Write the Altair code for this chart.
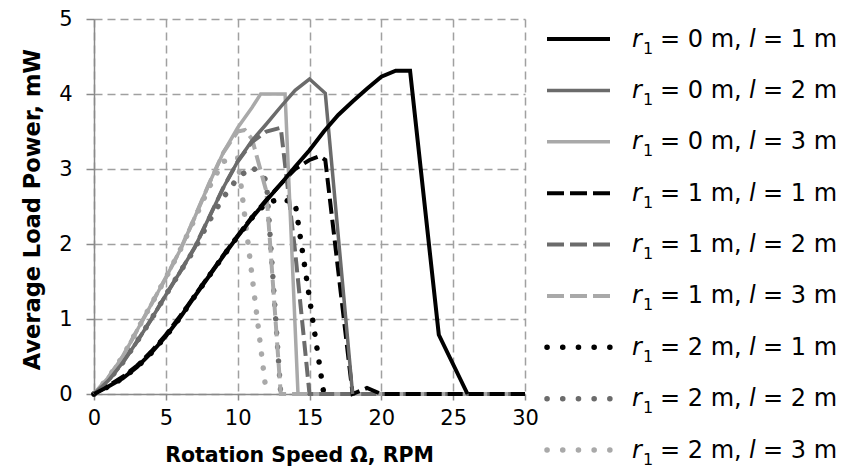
import altair as alt
import pandas as pd

# ---- data ----
series = ["r1=0,l=1", "r1=0,l=2", "r1=0,l=3",
          "r1=1,l=1", "r1=1,l=2", "r1=1,l=3",
          "r1=2,l=1", "r1=2,l=2", "r1=2,l=3"]
r1_vals = [0, 0, 0, 1, 1, 1, 2, 2, 2]
l_vals = [1, 2, 3, 1, 2, 3, 1, 2, 3]

x_r0_l1 = [0, 1, 2, 3, 4, 5, 6, 7, 8, 9, 10, 11, 12, 13, 14, 15, 16, 17, 18, 19, 20, 21, 22, 24, 26]
y_r0_l1 = [0, 0.1, 0.21, 0.36, 0.55, 0.77, 1.02, 1.3, 1.57, 1.84, 2.1, 2.35, 2.58, 2.8, 3.03, 3.25, 3.5, 3.72, 3.9, 4.07, 4.23, 4.31, 4.31, 0.79, 0]

x_r0_l2 = [0, 1, 2, 3, 4, 5, 6, 7, 8, 9, 10, 11, 12, 13, 14, 15, 16.1, 18]
y_r0_l2 = [0, 0.18, 0.42, 0.7, 1.0, 1.32, 1.63, 1.95, 2.35, 2.75, 3.1, 3.38, 3.6, 3.83, 4.05, 4.2, 4.01, 0]

x_r0_l3 = [0, 1, 2, 3, 4, 5, 6, 7, 8, 9, 10, 11, 11.6, 13.3, 14.2]
y_r0_l3 = [0, 0.22, 0.5, 0.85, 1.2, 1.55, 1.92, 2.35, 2.8, 3.22, 3.55, 3.82, 4.0, 4.0, 0]

x_r1_l1 = [0, 1, 2, 3, 4, 5, 6, 7, 8, 9, 10, 11, 12, 13, 14, 15, 15.7, 16.1, 18, 19, 20, 30]
y_r1_l1 = [0, 0.11, 0.23, 0.38, 0.57, 0.79, 1.04, 1.31, 1.58, 1.85, 2.11, 2.36, 2.59, 2.8, 3.0, 3.12, 3.17, 3.12, 0, 0.08, 0, 0]

x_r1_l2 = [0, 1, 2, 3, 4, 5, 6, 7, 8, 9, 10, 11, 12, 13, 14, 15, 30]
y_r1_l2 = [0, 0.18, 0.42, 0.7, 1.0, 1.32, 1.63, 1.95, 2.35, 2.75, 3.1, 3.36, 3.5, 3.55, 1.9, 0, 0]

x_r1_l3 = [0, 1, 2, 3, 4, 5, 6, 7, 8, 9, 10, 10.5, 11, 12, 13, 30]
y_r1_l3 = [0, 0.22, 0.5, 0.85, 1.2, 1.55, 1.92, 2.35, 2.8, 3.22, 3.5, 3.52, 3.4, 2.7, 0, 0]

x_r2_l1 = [0, 1, 2, 3, 4, 5, 6, 7, 8, 9, 10, 11, 12, 13, 14, 16]
y_r2_l1 = [0, 0.1, 0.21, 0.36, 0.55, 0.77, 1.02, 1.3, 1.57, 1.84, 2.1, 2.35, 2.55, 2.6, 2.55, 0]

x_r2_l2 = [0, 1, 2, 3, 4, 5, 6, 7, 8, 9, 10, 11, 12, 13]
y_r2_l2 = [0, 0.18, 0.42, 0.7, 1.0, 1.32, 1.63, 1.93, 2.3, 2.62, 2.88, 3.03, 2.85, 0]

x_r2_l3 = [0, 1, 2, 3, 4, 5, 6, 7, 8, 9, 10, 12]
y_r2_l3 = [0, 0.22, 0.5, 0.85, 1.2, 1.55, 1.92, 2.33, 2.75, 3.1, 3.15, 0]

x_ticks = [0, 5, 10, 15, 20, 25, 30]
y_ticks = [0, 1, 2, 3, 4, 5]

xs = [x_r0_l1, x_r0_l2, x_r0_l3, x_r1_l1, x_r1_l2, x_r1_l3, x_r2_l1, x_r2_l2, x_r2_l3]
ys = [y_r0_l1, y_r0_l2, y_r0_l3, y_r1_l1, y_r1_l2, y_r1_l3, y_r2_l1, y_r2_l2, y_r2_l3]

rows = []
for s, xv, yv in zip(series, xs, ys):
    for a, b in zip(xv, yv):
        rows.append({"series": s, "x": a, "y": b})
df = pd.DataFrame(rows)

leg_df = pd.DataFrame({
    "series": series,
    "r_sym": ["r"] * 9,
    "sub": ["1"] * 9,
    "r_txt": [f"= {v} m," for v in r1_vals],
    "l_sym": ["l"] * 9,
    "l_txt": [f"= {v} m" for v in l_vals],
})

# ---- styles ----
grey = {1: "#000000", 2: "#6b6b6b", 3: "#a9a9a9"}
FONT = "DejaVu Sans"


def style(r1, l, legend=False):
    kw = {"color": grey[l]}
    if r1 == 0:
        kw.update(strokeWidth=4 if l == 1 else 3.5, strokeCap="butt")
    elif r1 == 1:
        kw.update(strokeWidth=4, strokeCap="butt", strokeDash=[17, 6] if legend else [15, 6])
    else:
        kw.update(strokeWidth=5.5, strokeCap="round", strokeDash=[0.1, 15.6] if legend else [0.1, 14])
    return kw


x_enc = alt.X("x:Q", scale=alt.Scale(domain=[0, 30], nice=False),
              axis=alt.Axis(values=x_ticks, title="Rotation Speed Ω, RPM",
                            tickSize=6, labelPadding=7, labelFlush=False,
                            titleFontSize=20.5, titleX=205, titleY=61,
                            titleAlign="center", titleBaseline="middle"))
y_enc = alt.Y("y:Q", scale=alt.Scale(domain=[0, 5], nice=False),
              axis=alt.Axis(values=y_ticks, title="Average Load Power, mW",
                            tickSize=8, labelPadding=14, labelFlush=False,
                            titleFontSize=22.5, titleX=-62, titleY=190, titleAngle=-90,
                            titleAlign="center", titleBaseline="middle"))

plot_layers = []
for i in reversed(range(len(series))):
    s = series[i]
    plot_layers.append(
        alt.Chart(df).transform_filter(alt.datum.series == s)
        .mark_line(**style(r1_vals[i], l_vals[i]))
        .encode(x=x_enc, y=y_enc)
    )

legend_y = alt.Y("series:N", scale=alt.Scale(type="point", domain=series, range=[20, 431], padding=0),
                 axis=None)

legend_layers = []
for i, s in enumerate(series):
    legend_layers.append(
        alt.Chart(leg_df).transform_filter(alt.datum.series == s)
        .mark_rule(**style(r1_vals[i], l_vals[i], legend=True))
        .encode(y=legend_y, x=alt.value(453), x2=alt.value(516))
    )

txt = dict(align="left", baseline="middle", font=FONT, color="black")
legend_layers += [
    alt.Chart(leg_df).mark_text(fontSize=24, fontStyle="italic", dy=0.5, **txt)
    .encode(y=legend_y, x=alt.value(538), text="r_sym:N"),
    alt.Chart(leg_df).mark_text(fontSize=16, dy=9.5, **txt)
    .encode(y=legend_y, x=alt.value(549), text="sub:N"),
    alt.Chart(leg_df).mark_text(fontSize=24, dy=0.5, **txt)
    .encode(y=legend_y, x=alt.value(566), text="r_txt:N"),
    alt.Chart(leg_df).mark_text(fontSize=24, fontStyle="italic", dy=0.5, **txt)
    .encode(y=legend_y, x=alt.value(655), text="l_sym:N"),
    alt.Chart(leg_df).mark_text(fontSize=24, dy=0.5, **txt)
    .encode(y=legend_y, x=alt.value(669), text="l_txt:N"),
]

chart = (
    alt.layer(alt.layer(*plot_layers), alt.layer(*legend_layers))
    .resolve_scale(y="independent")
    .properties(width=431, height=375,
                padding={"left": 86, "top": 11, "right": 311, "bottom": 75},
                autosize=alt.AutoSizeParams(type="none"),
                background="white")
    .configure_view(stroke=None)
    .configure_axis(labelFont=FONT, labelFontSize=21, labelColor="black",
                    titleFont=FONT, titleFontSize=21, titleFontWeight="bold", titleColor="black",
                    domainColor="#8a8a8a", domainWidth=1.5,
                    tickColor="#8a8a8a", tickWidth=1.5,
                    grid=True, gridColor="#a0a0a0", gridDash=[8, 5], gridWidth=1.5)
)

chart.save("out.html", embed_options={"renderer": "svg", "actions": False})
